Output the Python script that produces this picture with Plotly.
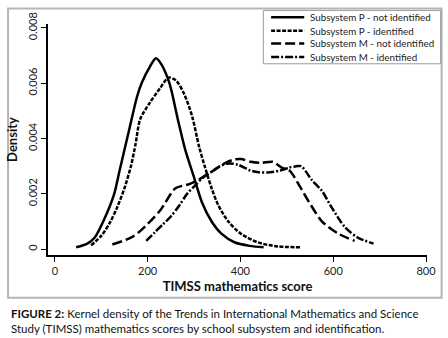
import plotly.graph_objects as go

# ---- data (kernel density curves) ----
series_names = [
    "Subsystem P - not identified",
    "Subsystem P - identified",
    "Subsystem M - not identified",
    "Subsystem M - identified",
]

p_not_x = [46, 70, 86, 107, 128, 139, 160, 177, 187, 205, 218, 229, 247, 265, 281, 300, 317, 338, 359, 387, 420, 450]
p_not_y = [0.00007, 0.0002, 0.00042, 0.0011, 0.002, 0.0028, 0.0043, 0.0055, 0.006, 0.0066, 0.0069, 0.0067,
           0.006, 0.0047, 0.0036, 0.0026, 0.0017, 0.001, 0.00056, 0.00025, 0.00012, 0.00007]

p_id_x = [78, 101, 120, 134, 150, 164, 174, 184, 205, 226, 245, 261, 279, 296, 311, 323, 338, 352, 374, 401, 437, 480, 531]
p_id_y = [0.00014, 0.0005, 0.001, 0.0015, 0.0022, 0.003, 0.0038, 0.0047, 0.0053, 0.0058, 0.0062, 0.0061,
          0.0056, 0.0048, 0.0037, 0.003, 0.0022, 0.0016, 0.001, 0.00056, 0.00025, 0.0001, 0.00007]

m_not_x = [124, 164, 185, 227, 260, 290, 303, 338, 366, 384, 401, 422, 445, 470, 489, 506, 527, 548, 576, 611, 646]
m_not_y = [0.00017, 0.00042, 0.00067, 0.0014, 0.0022, 0.00235, 0.00245, 0.0028, 0.0031, 0.00323, 0.00326,
           0.00316, 0.00312, 0.00316, 0.00295, 0.00284, 0.0023, 0.0017, 0.001, 0.00056, 0.0003]

m_id_x = [197, 215, 233, 251, 269, 285, 302, 320, 338, 356, 374, 395, 422, 440, 458, 485, 505, 521, 531,
          554, 576, 597, 625, 653, 687]
m_id_y = [0.0003, 0.0006, 0.0009, 0.0012, 0.0016, 0.002, 0.0023, 0.0026, 0.0028, 0.003, 0.0031, 0.00305,
          0.00284, 0.00278, 0.00277, 0.00284, 0.00295, 0.003, 0.003, 0.0025, 0.0021, 0.0015, 0.0008,
          0.00042, 0.0002]

x_ticks = [0, 200, 400, 600, 800]
y_ticks = [0, 0.002, 0.004, 0.006, 0.008]
y_tick_labels = ["0", "0.002", "0.004", "0.006", "0.008"]

FONT = "Lato"
dashes = ["solid", "4px,1.5px", "10px,4px", "8px,2px,2px,2px"]
xs = [p_not_x, p_id_x, m_not_x, m_id_x]
ys = [p_not_y, p_id_y, m_not_y, m_id_y]

fig = go.Figure()
for name, x, y, d in zip(series_names, xs, ys, dashes):
    fig.add_trace(go.Scatter(x=x, y=y, mode="lines", name=name,
                             line=dict(color="black", width=2.5, dash=d, shape="spline", smoothing=0.8),
                             showlegend=False, hoverinfo="skip"))

# plot area: x 42..431, y 17..255 px
L, R, T, B = 42, 17, 17, 83
W, H = 448, 338
pw, ph = W - L - R, H - T - B

def px(xp):
    return (xp - L) / pw

def py(yp):
    return (H - B - yp) / ph

fig.update_layout(
    width=W, height=H,
    margin=dict(l=L, r=R, t=T, b=B),
    paper_bgcolor="white", plot_bgcolor="white",
    font=dict(family=FONT, color="#222222", size=11),
    xaxis=dict(range=[-14.7, 802.1], tickvals=x_ticks, ticks="outside", ticklen=5,
               tickwidth=1.2, tickcolor="black", showline=True, linecolor="black", linewidth=1.5,
               showgrid=False, zeroline=False, tickfont=dict(size=11),
               title=dict(text="<b>TIMSS mathematics score</b>", font=dict(size=13, color="#111"), standoff=6)),
    yaxis=dict(range=[-0.00021, 0.00814], tickvals=y_ticks, ticktext=y_tick_labels, tickangle=-90,
               ticks="outside", ticklen=5, tickwidth=1.2, tickcolor="black",
               showline=True, linecolor="black", linewidth=1.5, showgrid=False, zeroline=False,
               tickfont=dict(size=11),
               title=dict(text="<b>Density</b>", font=dict(size=13, color="#111"), standoff=5)),
)

shapes = []
# outer gray frame around the chart
shapes.append(dict(type="rect", xref="paper", yref="paper", x0=px(1), x1=px(446), y0=py(299), y1=py(1),
                   line=dict(color="#b5b5b5", width=2), fillcolor="rgba(0,0,0,0)", layer="below"))
# legend box
shapes.append(dict(type="rect", xref="paper", yref="paper", x0=px(263), x1=px(445), y0=py(58), y1=py(3),
                   line=dict(color="#9a9a9a", width=1), fillcolor="white", layer="above"))
annotations = []
leg_y = [10, 24, 37, 51]
for name, d, yy in zip(series_names, dashes, leg_y):
    shapes.append(dict(type="line", xref="paper", yref="paper", x0=px(271), x1=px(305), y0=py(yy), y1=py(yy),
                       line=dict(color="black", width=2.5, dash=d), layer="above"))
    annotations.append(dict(xref="paper", yref="paper", x=px(309), y=py(yy), text=name, showarrow=False,
                            xanchor="left", yanchor="middle", font=dict(size=9.8, family=FONT, color="#222")))

# caption
annotations.append(dict(xref="paper", yref="paper", x=px(2), y=py(315), showarrow=False, xanchor="left",
                        yanchor="middle", font=dict(size=11.5, family=FONT, color="#111"),
                        text="<b>FIGURE 2:</b> Kernel density of the Trends in International Mathematics and Science"))
annotations.append(dict(xref="paper", yref="paper", x=px(2), y=py(331), showarrow=False, xanchor="left",
                        yanchor="middle", font=dict(size=11.5, family=FONT, color="#111"),
                        text="Study (TIMSS) mathematics scores by school subsystem and identification."))

fig.update_layout(shapes=shapes, annotations=annotations)
fig.write_html("out.html", config={"displayModeBar": False},
               post_script="document.body.style.margin='0';document.body.style.overflow='hidden';")
